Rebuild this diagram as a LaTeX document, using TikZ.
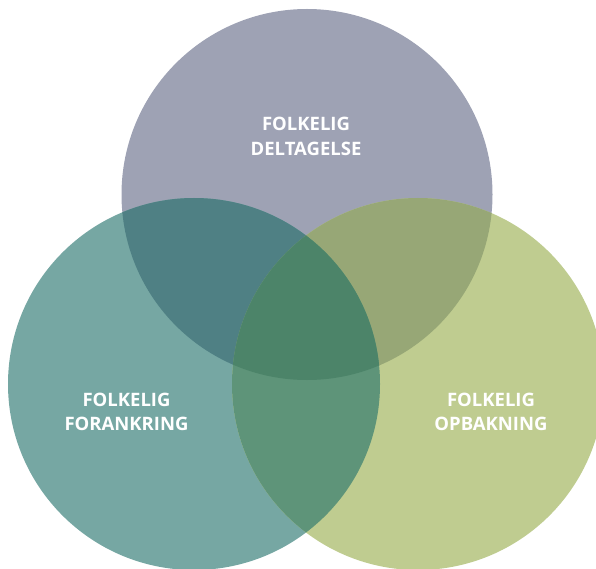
\documentclass[tikz,border=0pt]{standalone}
\usepackage{fontspec}
\setmainfont{Open Sans}
\definecolor{ctop}{HTML}{9EA2B4}
\definecolor{cleft}{HTML}{76A7A3}
\definecolor{cright}{HTML}{BFCC90}
\definecolor{ctl}{HTML}{4F8084}
\definecolor{ctr}{HTML}{97A776}
\definecolor{clr}{HTML}{5E9479}
\definecolor{call}{HTML}{4C8469}
\begin{document}
\begin{tikzpicture}[x=1pt,y=-1pt,
  lbl/.style={text=white,font=\fontsize{18.5}{24.5}\selectfont\bfseries,align=center,inner sep=0pt}]
\useasboundingbox (0,0) rectangle (596,569);
\clip (0,0) rectangle (596,569);
\def\topc{(307,194.5) circle[radius=185.5]}
\def\leftc{(194,384) circle[radius=186]}
\def\rightc{(418,384) circle[radius=186]}
\fill[ctop] \topc;
\fill[cleft] \leftc;
\fill[cright] \rightc;
\begin{scope}\clip \topc; \fill[ctl] \leftc; \end{scope}
\begin{scope}\clip \topc; \fill[ctr] \rightc; \end{scope}
\begin{scope}\clip \leftc; \fill[clr] \rightc; \end{scope}
\begin{scope}\clip \topc; \clip \leftc; \fill[call] \rightc; \end{scope}
\node[lbl] (t) at (306,136.5) {FOLKELIG\\DELTAGELSE};
\node[lbl] (l) at (126.5,412) {FOLKELIG\\FORANKRING};
\node[lbl] (r) at (491,412) {FOLKELIG\\OPBAKNING};
\end{tikzpicture}
\end{document}
